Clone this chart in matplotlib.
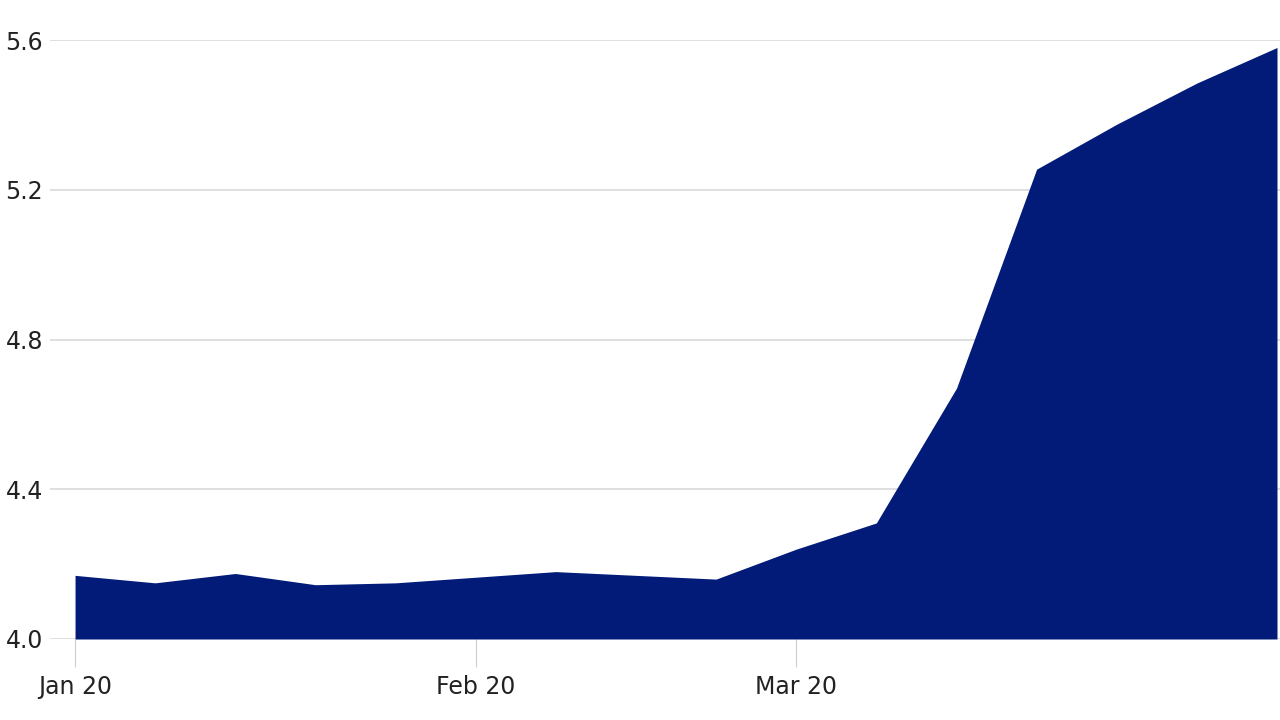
import matplotlib
matplotlib.use("Agg")
import matplotlib.pyplot as plt

values = [4.17, 4.15, 4.175, 4.145, 4.15, 4.165, 4.18, 4.17, 4.16, 4.24, 4.31, 4.67, 5.255, 5.375, 5.485, 5.58]
tick_idx = [0, 5, 9]
tick_labels = ["Jan 20", "Feb 20", "Mar 20"]
yticks = [4.0, 4.4, 4.8, 5.2, 5.6]

fig = plt.figure(figsize=(12.8, 7.2), dpi=100)
ax = fig.add_axes([50/1280, 81/720, 1230/1280, 599/720 * (1.6/1.6)])
x = list(range(len(values)))
ax.fill_between(x, 4.0, values, color="#021b79", linewidth=0, zorder=3)
ax.set_xlim(-25/80, 15 + 3/80)
ax.set_ylim(4.0, 5.6)
ax.set_yticks(yticks)
ax.set_yticklabels([f"{v:.1f}" for v in yticks])
ax.grid(axis="y", color="#d9d9d9", linewidth=1.2, zorder=0)
ax.set_xticks(tick_idx)
ax.set_xticklabels(tick_labels)
for s in ax.spines.values():
    s.set_visible(False)
ax.tick_params(axis="y", length=0, labelsize=17, colors="#222222", pad=5)
ax.tick_params(axis="x", length=20, color="#cccccc", labelsize=17, colors="#222222", pad=6)
ax.set_clip_on(False)
fig.savefig("out.png", dpi=100)
